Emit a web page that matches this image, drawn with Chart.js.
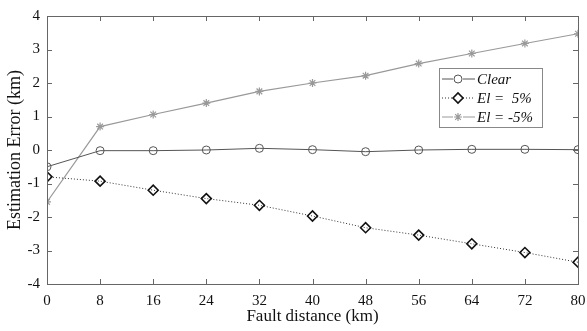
<!DOCTYPE html>
<html>
<head>
<meta charset="utf-8">
<script src="https://cdn.jsdelivr.net/npm/chart.js@4"></script>
<style>
  html, body { margin: 0; padding: 0; background: #fff; }
  #wrap { width: 587px; height: 331px; }
</style>
</head>
<body>
<div id="wrap"><canvas id="chart"></canvas></div>
<script>
// values
const distance = [0, 8, 16, 24, 32, 40, 48, 56, 64, 72, 80];
const clearErr = [-0.5, -0.02, -0.02, 0.0, 0.05, 0.01, -0.05, 0.0, 0.02, 0.02, 0.01];
const elPlus5 = [-0.8, -0.93, -1.2, -1.45, -1.65, -1.97, -2.32, -2.54, -2.8, -3.06, -3.35];
const elMinus5 = [-1.55, 0.7, 1.06, 1.4, 1.75, 2.0, 2.22, 2.58, 2.88, 3.18, 3.47];
const seriesNames = ['Clear', 'El =  5%', 'El = -5%'];

const FONT = 'Liberation Serif, Times New Roman, serif';
const AXIS_COLOR = '#666';

const toXY = vals => vals.map((v, i) => ({ x: distance[i], y: v }));

// box + inward ticks (MATLAB style)
const boxPlugin = {
  id: 'box',
  afterDraw(chart) {
    const { ctx, chartArea: a, scales: { x, y } } = chart;
    ctx.save();
    ctx.strokeStyle = AXIS_COLOR;
    ctx.lineWidth = 1;
    ctx.strokeRect(a.left + 0.5, a.top + 0.5, a.right - a.left, a.bottom - a.top);
    const len = 5;
    ctx.beginPath();
    x.ticks.forEach(t => {
      const px = Math.round(x.getPixelForValue(t.value)) + 0.5;
      ctx.moveTo(px, a.bottom); ctx.lineTo(px, a.bottom - len);
      ctx.moveTo(px, a.top); ctx.lineTo(px, a.top + len);
    });
    y.ticks.forEach(t => {
      const py = Math.round(y.getPixelForValue(t.value)) + 0.5;
      ctx.moveTo(a.left, py); ctx.lineTo(a.left + len, py);
      ctx.moveTo(a.right, py); ctx.lineTo(a.right - len, py);
    });
    ctx.stroke();
    ctx.restore();
  }
};

// legend box inside the plot
const legendBox = {
  id: 'legendBox',
  afterDraw(chart) {
    const { ctx } = chart;
    const bx = 439, by = 68, bw = 103, bh = 59;
    ctx.save();
    ctx.fillStyle = '#fff';
    ctx.fillRect(bx, by, bw, bh);
    ctx.strokeStyle = '#888';
    ctx.lineWidth = 1;
    ctx.strokeRect(bx + 0.5, by + 0.5, bw, bh);
    chart.data.datasets.forEach((ds, i) => {
      const cy = by + 11 + i * 19;
      ctx.strokeStyle = ds.borderColor;
      ctx.lineWidth = ds.borderWidth;
      ctx.setLineDash(ds.borderDash || []);
      ctx.beginPath();
      ctx.moveTo(bx + 3, cy);
      ctx.lineTo(bx + 36, cy);
      ctx.stroke();
      ctx.setLineDash([]);
      ctx.fillStyle = '#fff';
      ctx.fillRect(bx + 14, cy - 5, 10, 10);
      ctx.strokeStyle = ds.pointBorderColor;
      ctx.lineWidth = ds.pointBorderWidth;
      Chart.helpers.drawPoint(ctx, {
        pointStyle: ds.pointStyle, radius: ds.pointRadius, borderWidth: ds.pointBorderWidth
      }, bx + 19, cy);
      ctx.fillStyle = '#111';
      ctx.font = 'italic 15px ' + FONT;
      ctx.textBaseline = 'middle';
      ctx.fillText(seriesNames[i], bx + 38, cy + 1);
    });
    ctx.restore();
  }
};

new Chart(document.getElementById('chart'), {
  type: 'line',
  data: {
    datasets: [
      {
        label: seriesNames[0],
        data: toXY(clearErr),
        borderColor: '#555',
        borderWidth: 1,
        pointStyle: 'circle',
        pointRadius: 4,
        pointBorderColor: '#555',
        pointBackgroundColor: 'rgba(255,255,255,0)',
        pointBorderWidth: 1
      },
      {
        label: seriesNames[1],
        data: toXY(elPlus5),
        borderColor: '#333',
        borderWidth: 1,
        borderDash: [1, 2],
        pointStyle: 'rectRot',
        pointRadius: 5,
        pointBorderColor: '#111',
        pointBackgroundColor: 'rgba(255,255,255,0)',
        pointBorderWidth: 1.6
      },
      {
        label: seriesNames[2],
        data: toXY(elMinus5),
        borderColor: '#999',
        borderWidth: 1.2,
        pointStyle: 'star',
        pointRadius: 4,
        pointBorderColor: '#999',
        pointBackgroundColor: '#999',
        pointBorderWidth: 1.2
      }
    ]
  },
  options: {
    responsive: true,
    maintainAspectRatio: false,
    animation: false,
    layout: { padding: { top: 12, right: 9, left: 0, bottom: 0 } },
    plugins: {
      legend: { display: false },
      tooltip: { enabled: false }
    },
    scales: {
      x: {
        type: 'linear',
        min: 0,
        max: 80,
        grid: { display: false, drawTicks: false },
        border: { display: false },
        afterFit: s => { s.height = 47; s.paddingRight = 0; },
        ticks: {
          stepSize: 8,
          color: '#111',
          padding: 8,
          font: { family: FONT, size: 15 }
        },
        title: {
          display: true,
          text: 'Fault distance (km)',
          color: '#111',
          padding: { top: 0 },
          font: { family: FONT, size: 17 }
        }
      },
      y: {
        min: -4,
        max: 4,
        grid: { display: false, drawTicks: false },
        border: { display: false },
        afterFit: s => { s.width = 47; },
        ticks: {
          stepSize: 1,
          color: '#111',
          padding: 7,
          font: { family: FONT, size: 15 }
        },
        title: {
          display: true,
          text: 'Estimation Error (km)',
          color: '#111',
          padding: { bottom: 2 },
          font: { family: FONT, size: 18 }
        }
      }
    }
  },
  plugins: [boxPlugin, legendBox]
});
</script>
</body>
</html>
